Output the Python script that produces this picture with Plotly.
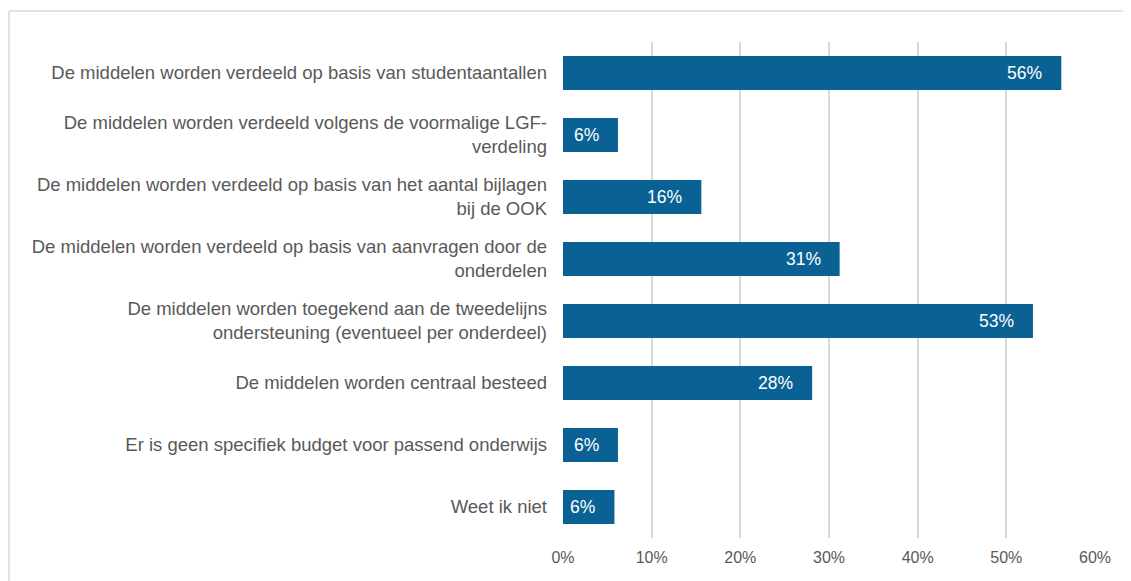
import plotly.graph_objects as go

categories = [
    "De middelen worden verdeeld op basis van studentaantallen",
    "De middelen worden verdeeld volgens de voormalige LGF-<br>verdeling",
    "De middelen worden verdeeld op basis van het aantal bijlagen<br>bij de OOK",
    "De middelen worden verdeeld op basis van aanvragen door de<br>onderdelen",
    "De middelen worden toegekend aan de tweedelijns<br>ondersteuning (eventueel per onderdeel)",
    "De middelen worden centraal besteed",
    "Er is geen specifiek budget voor passend onderwijs",
    "Weet ik niet",
]
values = [56.2, 6.2, 15.6, 31.2, 53.0, 28.1, 6.2, 5.8]
labels = ["56%", "6%", "16%", "31%", "53%", "28%", "6%", "6%"]
tick_vals = [0, 10, 20, 30, 40, 50, 60]
tick_text = ["0%", "10%", "20%", "30%", "40%", "50%", "60%"]

W, H = 1131, 581
OFF = 8  # page body margin offset
ML, MT = 563 - OFF, 42 - OFF
MR = W - (1095 - OFF)
MB = H - (538 - OFF)
pw = W - ML - MR
ph = H - MT - MB

BAR = "#0A6194"
TXT = "#595959"
FONT = "Liberation Sans, Arial, sans-serif"

fig = go.Figure(go.Bar(
    x=values, y=categories, orientation="h",
    marker=dict(color=BAR, line=dict(width=0)),
    width=0.55, hoverinfo="skip",
))

for c, v, t in zip(categories, values, labels):
    fig.add_annotation(x=v, y=c, text=t, showarrow=False, xanchor="right",
                       xshift=-17, font=dict(color="white", size=17.5, family=FONT))

# chart border (left and top edges visible)
bx = (9 - OFF - ML) / pw
by = 1 + (MT - (11 - OFF)) / ph
fig.add_shape(type="line", xref="paper", yref="paper", x0=bx, x1=bx, y0=-1, y1=by,
              line=dict(color="#D9D9D9", width=1.5))
fig.add_shape(type="line", xref="paper", yref="paper", x0=bx, x1=2, y0=by, y1=by,
              line=dict(color="#D9D9D9", width=1.5))

fig.update_layout(
    width=W, height=H,
    margin=dict(l=ML, r=MR, t=MT, b=MB),
    paper_bgcolor="white", plot_bgcolor="white",
    showlegend=False,
    font=dict(family=FONT, color=TXT, size=16),
    xaxis=dict(range=[0, 60], tickvals=tick_vals, ticktext=tick_text,
               showgrid=True, gridcolor="#D9D9D9", gridwidth=1.5,
               zeroline=False, showline=False, ticks="", ticklabelstandoff=8,
               tickfont=dict(size=16, color=TXT, family=FONT)),
    yaxis=dict(autorange="reversed", showgrid=False, zeroline=False, showline=False,
               ticks="", ticklabelstandoff=15,
               tickfont=dict(size=18.5, color=TXT, family=FONT)),
)

fig.write_html("out.html")
